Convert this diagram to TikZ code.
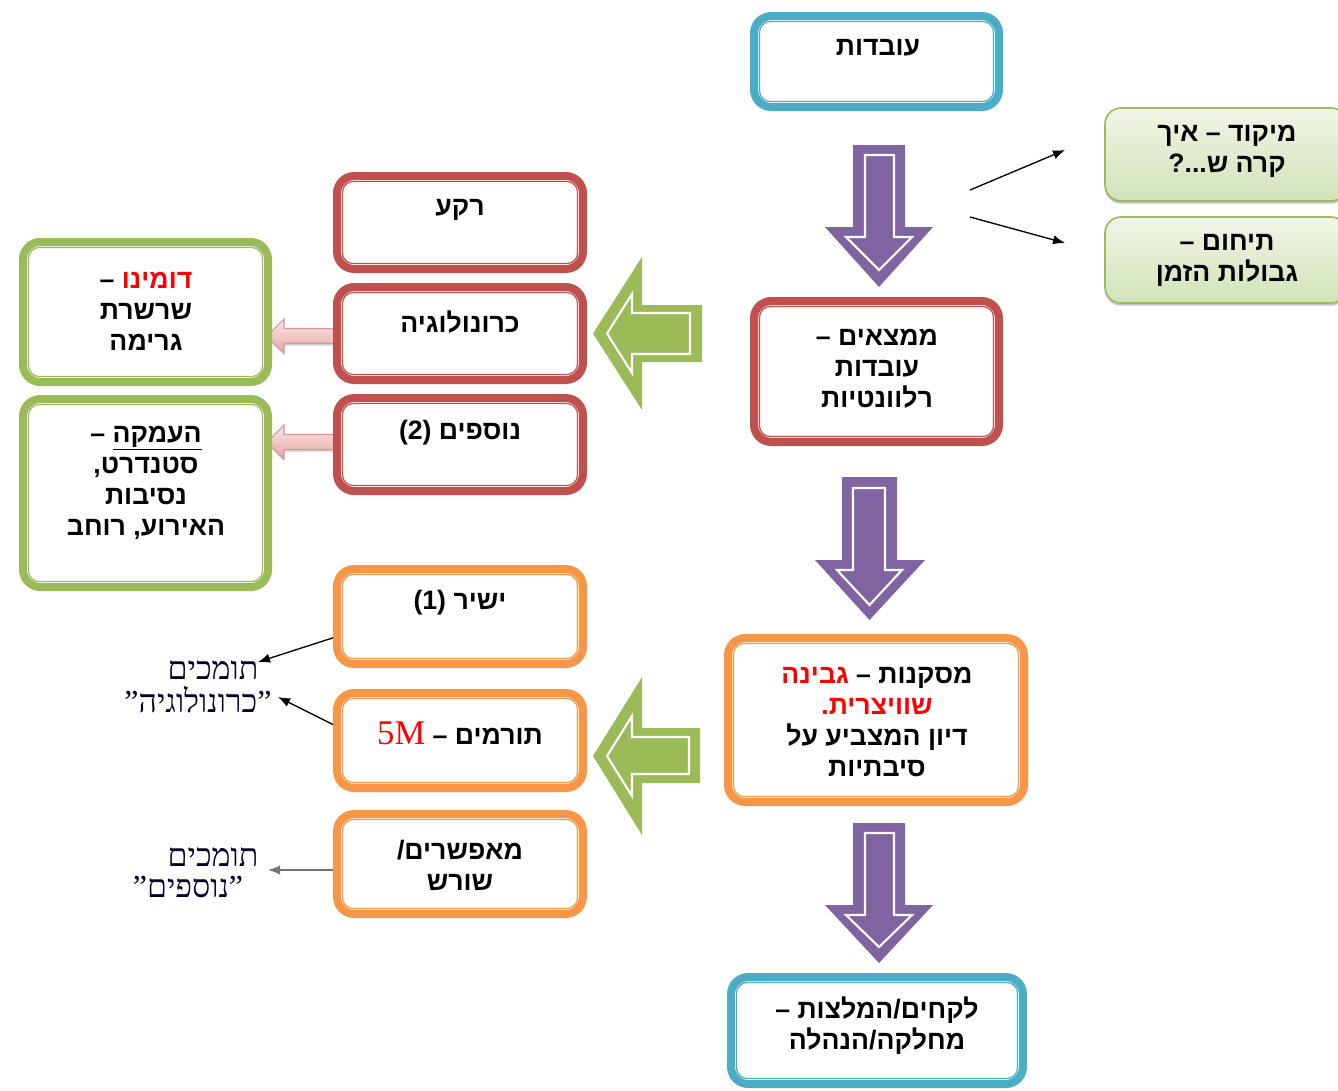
\documentclass[tikz,border=0pt]{standalone}
\usepackage{fontspec}
\setmainfont{Liberation Serif}
\newfontfamily\heb[Script=Hebrew]{Liberation Sans}
\newfontfamily\hebser[Script=Hebrew]{Liberation Serif}
\TeXXeTstate=1
\usetikzlibrary{arrows.meta,shadows}

\definecolor{cblue}{HTML}{4BACC6}
\definecolor{cred}{HTML}{C0504D}
\definecolor{corange}{HTML}{F79646}
\definecolor{cgreen}{HTML}{9BBB59}
\definecolor{cpurple}{HTML}{8064A2}
\definecolor{lgtop}{HTML}{F0F5E6}
\definecolor{lgbot}{HTML}{D3E2B8}
\definecolor{pinktop}{HTML}{FBE9E8}
\definecolor{pinkbot}{HTML}{E3A6A4}
\definecolor{pinkedge}{HTML}{D99694}
\definecolor{hred}{HTML}{FF0000}

\tikzset{
  boxframe/.style={draw=#1, line width=6pt, rounded corners=13pt, fill=white, inner sep=0pt},
  softbox/.style={draw=cgreen, line width=1.2pt, rounded corners=12pt,
    top color=lgtop, bottom color=lgbot, inner sep=0pt,
    drop shadow={opacity=0.45, shadow xshift=0pt, shadow yshift=-2pt}},
  lbl/.style={font=\heb\bfseries\fontsize{20}{23.25}\selectfont, align=center, inner sep=0pt, text=black},
  note/.style={font=\hebser\fontsize{24}{26}\selectfont, inner sep=0pt, text=black!85!blue},
  pointer/.style={-{Latex[length=9pt,width=7pt]}, line width=1pt},
  blockfill/.style={fill=#1, draw=none},
  blockline/.style={draw=white, line width=1.6pt, line join=miter},
  pinkarrow/.style={draw=pinkedge, line width=0.8pt, top color=pinktop, bottom color=pinkbot,
    drop shadow={opacity=0.35, shadow xshift=0pt, shadow yshift=-1.5pt}},
}

% framed box: name, x1, y1, x2, y2 (outer edges, px), colour
\newcommand\framedbox[6]{%
  \node[boxframe=#6, minimum width={(#4-#2-8)*0.75pt}, minimum height={(#5-#3-8)*0.75pt}]
    (#1) at ({(#2+#4)/2},{(#3+#5)/2}) {};
  \draw[#6, line width=0.9pt, rounded corners=8pt]
    ([shift={(9.5,9.5)}]#1.north west) rectangle ([shift={(-9.5,-9.5)}]#1.south east);
}

\begin{document}
\begin{tikzpicture}[x=0.75pt,y=-0.75pt]
\useasboundingbox (0,0) rectangle (1338,1090);
\fill[white] (0,0) rectangle (1338,1090);

% ---- purple down arrows ----
\path[blockfill=cpurple] (853,145) -- (905,145) -- (905,227) -- (933,227) -- (879,287) -- (825,227) -- (853,227) -- cycle;
\path[blockline] (865,155) -- (894,155) -- (894,237) -- (912,237) -- (879,270) -- (846,237) -- (865,237) -- cycle;

\path[blockfill=cpurple] (842,477) -- (897,477) -- (897,560) -- (925,560) -- (869.5,620) -- (815,560) -- (842,560) -- cycle;
\path[blockline] (853,488) -- (885,488) -- (885,570) -- (902,570) -- (869.5,605) -- (837,570) -- (853,570) -- cycle;

\path[blockfill=cpurple] (853,823) -- (905,823) -- (905,905) -- (933,905) -- (879,963) -- (825,905) -- (853,905) -- cycle;
\path[blockline] (865,833) -- (894,833) -- (894,915) -- (912,915) -- (879,947) -- (846,915) -- (865,915) -- cycle;

% ---- green left arrows ----
\path[blockfill=cgreen] (593,333.5) -- (642,257) -- (642,305) -- (702,305) -- (702,362) -- (642,362) -- (642,410) -- cycle;
\path[blockline] (607,333.5) -- (632,294) -- (632,313) -- (690,313) -- (690,354) -- (632,354) -- (632,373) -- cycle;

\path[blockfill=cgreen] (593,756) -- (642,677) -- (642,728) -- (700,728) -- (700,783) -- (642,783) -- (642,835) -- cycle;
\path[blockline] (607,756) -- (632,716) -- (632,737) -- (689,737) -- (689,774) -- (632,774) -- (632,796) -- cycle;

% ---- small pink arrows ----
\path[pinkarrow] (267,336) -- (284,319) -- (284,328.5) -- (336,328.5) -- (336,343.5) -- (284,343.5) -- (284,353) -- cycle;
\path[pinkarrow] (267,442) -- (284,425) -- (284,434.5) -- (336,434.5) -- (336,449.5) -- (284,449.5) -- (284,459) -- cycle;

% ---- main column ----
\framedbox{facts}{750}{12}{1003}{111}{cblue}
\framedbox{finds}{750}{297}{1003}{446}{cred}
\framedbox{concl}{724}{634}{1028}{806}{corange}
\framedbox{lesson}{727}{973}{1027}{1088}{cblue}

% ---- red column ----
\framedbox{bg}{333}{172}{587}{273}{cred}
\framedbox{chrono}{333}{283}{587}{384}{cred}
\framedbox{extra}{333}{394}{587}{495}{cred}

% ---- orange column ----
\framedbox{direct}{333}{565}{587}{668}{corange}
\framedbox{contrib}{333}{689}{587}{792}{corange}
\framedbox{enable}{333}{810}{587}{918}{corange}

% ---- green boxes ----
\framedbox{domino}{19}{238}{272}{386}{cgreen}
\framedbox{deep}{19}{395}{272}{591}{cgreen}

% ---- light green boxes ----
\node[softbox, minimum width={242*0.75pt}, minimum height={93*0.75pt}] (focus) at (1226,154.5) {};
\node[softbox, minimum width={242*0.75pt}, minimum height={86*0.75pt}] (scope) at (1226,260) {};

% ---- labels ----
\node[lbl] (t-facts) at (878,48) {\beginR עובדות\endR};
\node[lbl] (t-finds) at (877,369) {\beginR ממצאים –\endR\\\beginR עובדות\endR\\\beginR רלוונטיות\endR};
\node[lbl] (t-concl) at (877,722) {\textcolor{hred}{\beginR גבינה\endR}~–~\beginR מסקנות\endR\\
  \textcolor{hred}{\beginR שוויצרית.\endR}\\\beginR דיון המצביע על\endR\\\beginR סיבתיות\endR};
\node[lbl] (t-lesson) at (877,1026) {\beginR לקחים/המלצות –\endR\\\beginR מחלקה/הנהלה\endR};

\node[lbl] (t-bg) at (460,210) {\beginR רקע\endR};
\node[lbl] (t-chrono) at (460,322) {\beginR כרונולוגיה\endR};
\node[lbl] (t-extra) at (460,433) {\beginR נוספים \beginL(2)\endL\endR};

\node[lbl] (t-direct) at (460,603) {\beginR ישיר \beginL(1)\endL\endR};
\node[lbl] (t-contrib) at (460,733) {\textcolor{hred}{\rmfamily\mdseries\fontsize{26}{26}\selectfont 5M}~–~\beginR תורמים\endR};
\node[lbl] (t-enable) at (460,865) {\beginR מאפשרים/\endR\\\beginR שורש\endR};

\node[lbl] (t-domino) at (146,311) {–~\textcolor{hred}{\beginR דומינו\endR}\\\beginR שרשרת\endR\\\beginR גרימה\endR};
\node[lbl] (t-deep) at (146,483) {–~$\underline{\hbox{\beginR העמקה\endR}}$\\\beginR סטנדרט,\endR\\\beginR נסיבות\endR\\\beginR האירוע, רוחב\endR};

\node[lbl] (t-focus) at (1227,151) {\beginR מיקוד – איך\endR\\\beginR קרה ש...?\endR};
\node[lbl] (t-scope) at (1227,260) {\beginR תיחום –\endR\\\beginR גבולות הזמן\endR};

% ---- side notes ----
\node[note] (n1a) at (213,670) {\beginR תומכים\endR};
\node[note] (n1b) at (198,700) {\beginR ”כרונולוגיה”\endR};
\node[note] (n2a) at (213,857) {\beginR תומכים\endR};
\node[note] (n2b) at (188,887) {\beginR ”נוספים”\endR};
\coordinate (n2p) at (268,870);

% ---- thin arrows ----
\draw[pointer] ([yshift=-16pt]direct.west) -- (258,662);
\draw[pointer] ([yshift=12pt]contrib.west) -- (278,697);
\draw[pointer, draw=black!55] ([yshift=-4.5pt]enable.west) -- (n2p);

\coordinate (fork1) at (970,190);
\coordinate (fork2) at (970,217);
\coordinate (tip1) at (1065,150);
\coordinate (tip2) at (1065,243);
\draw[pointer] (fork1) -- (tip1);
\draw[pointer] (fork2) -- (tip2);
\end{tikzpicture}
\end{document}
